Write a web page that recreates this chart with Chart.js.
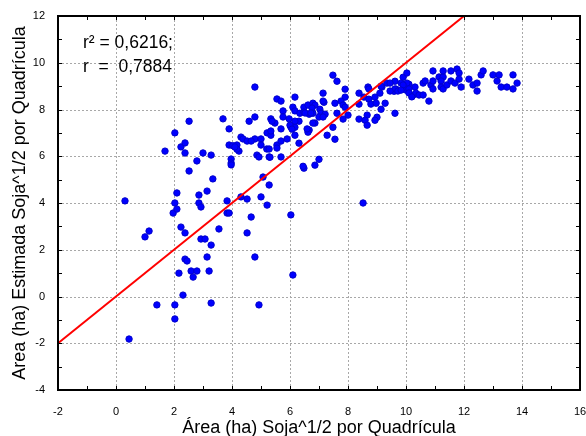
<!DOCTYPE html>
<html>
<head>
<meta charset="utf-8">
<script src="https://cdn.jsdelivr.net/npm/chart.js@4"></script>
<style>
  body { margin: 0; background: #fff; }
</style>
</head>
<body>
<canvas id="myChart" width="586" height="436"></canvas>
<script>
const xVals = [
  0.31, 0.45, 1.0, 1.14, 1.41, 1.69, 1.97, 2.03, 2.03, 2.03, 2.03, 2.1, 2.1, 2.17, 2.24, 2.24, 2.31, 2.38, 2.38, 2.38,
  2.38, 2.45, 2.52, 2.52, 2.59, 2.66, 2.79, 2.79, 2.86, 2.86, 2.93, 2.93, 3.0, 3.07, 3.14, 3.14, 3.21, 3.28, 3.28, 3.28,
  3.34, 3.55, 3.69, 3.83, 3.83, 3.9, 3.9, 3.9, 3.97, 3.97, 3.97, 4.03, 4.17, 4.24, 4.17, 4.31, 4.38, 4.52, 4.31, 4.52,
  4.52, 4.59, 4.66, 4.79, 4.79, 4.79, 4.79, 4.86, 4.93, 4.93, 5.0, 5.0, 5.0, 5.07, 5.2, 5.28, 5.28, 5.28, 5.21, 5.21,
  5.34, 5.34, 5.34, 5.48, 5.55, 5.69, 5.76, 5.76, 5.69, 5.55, 5.69, 5.69, 5.9, 5.97, 6.03, 6.03, 6.1, 6.17, 6.1, 6.17,
  6.17, 6.34, 6.48, 6.62, 6.79, 6.86, 6.76, 6.48, 6.66, 6.79, 7.03, 7.07, 7.21, 7.17, 7.14, 7.48, 7.62, 7.9, 7.9, 7.76,
  7.55, 7.83, 7.9, 7.62, 8.0, 7.83, 8.38, 8.38, 8.55, 8.69, 8.72, 8.79, 8.93, 8.97, 9.1, 9.17, 9.28, 9.14, 9.34, 9.62,
  9.66, 9.59, 9.83, 9.9, 10.03, 10.1, 10.0, 10.24, 10.31, 10.34, 9.62, 8.66, 8.38, 8.59, 9.0, 8.93, 8.66, 7.55, 7.28, 7.48,
  6.86, 6.79, 6.66, 6.62, 6.31, 6.17, 6.0, 6.07, 6.31, 6.17, 6.48, 6.45, 6.86, 7.0, 6.52, 6.72, 10.59, 10.66, 10.79, 10.86,
  10.93, 10.93, 10.93, 11.14, 11.28, 11.21, 11.28, 11.21, 11.28, 11.41, 11.55, 11.55, 11.69, 11.76, 11.83, 11.83, 11.9, 12.17, 12.31, 12.45,
  12.45, 12.59, 12.66, 13.0, 13.21, 13.14, 13.28, 13.48, 13.69, 13.69, 13.83, 9.62, 9.45, 9.72, 10.03, 10.1, 10.1, 10.2, 10.45, 10.59,
  9.9, 9.83, 9.45, 8.52, 8.72, 9.14, 7.14, 7.0, 7.14, 6.59, 5.38, 5.55, 5.31, 4.1, 4.66
];
const yVals = [
  4.09, -1.82, 2.55, 2.8, -0.36, 6.22, 3.57, 4.0, 7.0, -0.36, -0.96, 4.43, 3.74, 1.0, 6.4, 2.97, 0.06, 6.57, 6.14, 2.72,
  1.6, 1.52, 7.5, 5.37, 1.09, 0.83, 5.8, 1.09, 4.34, 4.0, 3.83, 2.46, 6.14, 2.46, 4.51, 1.69, 1.09, 6.05, 2.2, -0.28,
  5.03, 2.89, 7.6, 4.09, 3.57, 3.57, 7.17, 6.48, 5.88, 5.71, 5.63, 6.45, 6.48, 6.22, 6.3, 6.82, 6.74, 6.65, 4.26, 4.17,
  2.72, 7.5, 3.4, 8.96, 7.68, 6.74, 1.69, 6.05, 5.97, -0.36, 6.74, 6.48, 4.26, 5.11, 6.31, 6.31, 5.97, 4.77, 3.91, 7.0,
  6.9, 7.08, 7.6, 7.42, 8.45, 8.36, 7.94, 7.68, 7.17, 6.48, 6.65, 5.97, 6.74, 7.6, 7.25, 3.49, 0.92, 8.53, 8.1, 7.94,
  6.9, 7.84, 8.1, 8.19, 8.27, 8.19, 8.06, 7.89, 7.8, 7.84, 8.01, 7.84, 7.8, 8.31, 8.7, 9.47, 9.21, 8.87, 8.53, 8.36,
  8.27, 8.19, 8.1, 7.84, 7.76, 7.59, 8.7, 8.23, 8.53, 8.96, 8.44, 8.23, 8.53, 8.27, 8.7, 8.96, 8.27, 8.01, 9.13, 9.21,
  8.87, 8.78, 9.13, 9.38, 9.56, 9.08, 8.83, 8.61, 8.96, 8.7, 7.84, 7.76, 7.59, 7.54, 7.67, 7.54, 7.33, 6.73, 6.9, 7.24,
  7.42, 7.42, 7.12, 7.03, 6.56, 7.24, 7.33, 7.16, 7.5, 7.5, 5.49, 5.57, 5.62, 5.87, 7.85, 7.85, 9.13, 9.22, 8.36, 9.05,
  9.65, 9.22, 8.88, 9.39, 9.39, 9.22, 9.65, 8.96, 8.88, 9.05, 9.65, 9.22, 9.13, 9.73, 9.56, 9.3, 8.96, 9.3, 9.05, 9.13,
  8.79, 9.48, 9.65, 9.48, 9.48, 9.22, 8.96, 8.96, 8.88, 9.48, 9.13, 8.88, 8.79, 8.79, 9.13, 8.88, 8.71, 8.54, 8.62, 8.62,
  9.05, 8.83, 9.13, 4.0, 8.88, 9.0, 8.36, 7.68, 7.68, 7.17, 7.5, 6.35, 5.96, 6.4, 6.65
];
// red reference line
const lineX = [-2, 12];
const lineY = [-2, 12];
const statText = ['r\u00B2 = 0,6216;', 'r  =  0,7884'];

const fontFamily = "'Liberation Sans', Arial, sans-serif";

const points = xVals.map((x, i) => ({ x: x, y: yVals[i] }));
const linePoints = lineX.map((x, i) => ({ x: x, y: lineY[i] }));

// dotted grid under the marks
const gridPlugin = {
    id: 'dotgrid',
    beforeDatasetsDraw(chart) {
        const { ctx, chartArea: a, scales: { x, y } } = chart;
        ctx.save();
        ctx.strokeStyle = '#a8a8a8';
        ctx.lineWidth = 1;
        ctx.setLineDash([2, 2]);
        ctx.beginPath();
        x.ticks.forEach(t => {
            const px = Math.round(x.getPixelForValue(t.value)) + 0.5;
            ctx.moveTo(px, a.top); ctx.lineTo(px, a.bottom);
        });
        y.ticks.forEach(t => {
            const py = Math.round(y.getPixelForValue(t.value)) + 0.5;
            ctx.moveTo(a.left, py); ctx.lineTo(a.right, py);
        });
        ctx.stroke();
        ctx.restore();
    }
};

// frame, inner ticks and r text
const framePlugin = {
    id: 'frame',
    afterDraw(chart) {
        const { ctx, chartArea: a, scales: { x, y } } = chart;
        ctx.save();
        ctx.strokeStyle = '#000';
        ctx.lineWidth = 1;
        ctx.beginPath();
        for (let v = x.min; v <= x.max; v++) {
            const px = Math.round(x.getPixelForValue(v)) + 0.5;
            ctx.moveTo(px, a.bottom); ctx.lineTo(px, a.bottom - 4);
            ctx.moveTo(px, a.top); ctx.lineTo(px, a.top + 4);
        }
        for (let v = y.min; v <= y.max; v++) {
            const py = Math.round(y.getPixelForValue(v)) + 0.5;
            ctx.moveTo(a.left, py); ctx.lineTo(a.left + 4, py);
            ctx.moveTo(a.right, py); ctx.lineTo(a.right - 4, py);
        }
        ctx.stroke();
        ctx.lineWidth = 2;
        ctx.strokeRect(a.left, a.top, a.right - a.left, a.bottom - a.top);

        ctx.fillStyle = '#000';
        ctx.font = '17.5px ' + fontFamily;
        ctx.textBaseline = 'alphabetic';
        ctx.textAlign = 'left';
        ctx.fillText(statText[0], a.left + 25, a.top + 32);
        ctx.fillText(statText[1], a.left + 25, a.top + 56);
        ctx.restore();
    }
};

const ctx = document.getElementById('myChart').getContext('2d');
const myChart = new Chart(ctx, {
    type: 'scatter',
    data: {
        datasets: [{
            type: 'line',
            data: linePoints,
            borderColor: '#ff0000',
            borderWidth: 2,
            pointRadius: 0,
            fill: false
        }, {
            data: points,
            backgroundColor: '#0000ff',
            borderColor: '#0000cc',
            borderWidth: 1,
            pointRadius: 3.2
        }]
    },
    options: {
        responsive: false,
        animation: false,
        devicePixelRatio: 1,
        layout: { padding: { top: 16, right: 6, left: 0, bottom: 0 } },
        plugins: {
            legend: { display: false },
            tooltip: { enabled: false }
        },
        scales: {
            x: {
                type: 'linear',
                min: -2,
                max: 16,
                afterFit(s) { s.height = 46; s.paddingRight = 0; },
                ticks: {
                    stepSize: 2,
                    padding: 7,
                    maxRotation: 0,
                    autoSkip: false,
                    color: '#000',
                    font: { family: fontFamily, size: 11 }
                },
                grid: { display: false },
                border: { display: false },
                title: {
                    display: true,
                    text: 'Área (ha) Soja^1/2 por Quadrícula',
                    color: '#000',
                    font: { family: fontFamily, size: 18, lineHeight: 1 },
                    padding: { top: 0, bottom: -1 }
                }
            },
            y: {
                type: 'linear',
                min: -4,
                max: 12,
                afterFit(s) { s.width = 58; },
                ticks: {
                    stepSize: 2,
                    padding: 5,
                    color: '#000',
                    font: { family: fontFamily, size: 11 }
                },
                grid: { display: false },
                border: { display: false },
                title: {
                    display: true,
                    text: 'Area (ha) Estimada Soja^1/2 por Quadrícula',
                    color: '#000',
                    font: { family: fontFamily, size: 18, lineHeight: 1 },
                    padding: { top: 11, bottom: 0 }
                }
            }
        }
    },
    plugins: [gridPlugin, framePlugin]
});
</script>
</body>
</html>
